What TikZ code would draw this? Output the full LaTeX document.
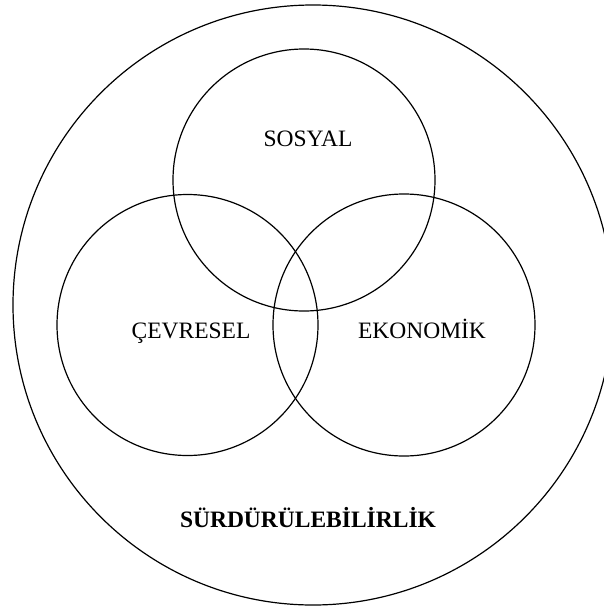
\documentclass[tikz,border=0pt]{standalone}
\usepackage{fontspec}
\setmainfont{Liberation Serif}
\tikzset{
  ring/.style={draw=black,circle,line width=1.2pt,inner sep=0pt},
  lbl/.style={font=\fontsize{23.5}{28}\selectfont,inner sep=0pt,anchor=base},
}
\begin{document}
\begin{tikzpicture}[x=1pt,y=-1pt]
  \useasboundingbox (0,0) rectangle (604,614);
  % outer ring and the three pillars
  \node[ring,minimum size=600pt] (surd) at (313,305) {};
  \node[ring,minimum size=262pt] (sos) at (304,180) {};
  \node[ring,minimum size=261pt] (cev) at (187.5,325) {};
  \node[ring,minimum size=262pt] (eko) at (404,325) {};
  \node[lbl] (tsos) at (308,146) {SOSYAL};
  \node[lbl] (tcev) at (191,338) {ÇEVRESEL};
  \node[lbl] (teko) at (422,338) {EKONOMİK};
  \node[lbl,font=\fontsize{23.5}{28}\selectfont\bfseries] (tsurd) at (308,527) {SÜRDÜRÜLEBİLİRLİK};
\end{tikzpicture}
\end{document}
